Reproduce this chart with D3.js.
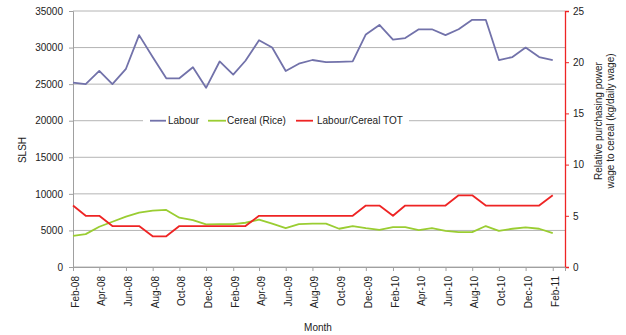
<!DOCTYPE html>
<html>
<head>
<meta charset="utf-8">
<script src="https://cdn.jsdelivr.net/npm/d3@7"></script>
<style>
  html, body { margin: 0; padding: 0; background: #fff; }
  svg { display: block; font-family: "Liberation Sans", Arial, sans-serif; }
</style>
</head>
<body>
<svg id="chart" width="626" height="335"></svg>
<script>
// Monthly series, Feb-08 to Feb-11
const months = [
  "Feb-08","Mar-08","Apr-08","May-08","Jun-08","Jul-08","Aug-08","Sep-08","Oct-08","Nov-08","Dec-08",
  "Jan-09","Feb-09","Mar-09","Apr-09","May-09","Jun-09","Jul-09","Aug-09","Sep-09","Oct-09","Nov-09","Dec-09",
  "Jan-10","Feb-10","Mar-10","Apr-10","May-10","Jun-10","Jul-10","Aug-10","Sep-10","Oct-10","Nov-10","Dec-10",
  "Jan-11","Feb-11"
];
// Daily labour wage (SLSH)
const labour = [
  25200, 25000, 26800, 25000, 27100, 31700, 28700, 25800, 25800, 27300, 24500,
  28100, 26300, 28200, 31000, 30000, 26800, 27800, 28300, 28000, 28050, 28100, 31800,
  33100, 31100, 31300, 32500, 32500, 31700, 32500, 33800, 33800, 28300, 28700, 30000,
  28700, 28300
];
// Cereal (rice) price (SLSH)
const cereal = [
  4250, 4500, 5500, 6190, 6880, 7430, 7700, 7800, 6740, 6420, 5830,
  5870, 5870, 6050, 6470, 5920, 5320, 5870, 5920, 5920, 5230, 5600, 5320,
  5090, 5460, 5460, 5050, 5320, 4950, 4770, 4770, 5600, 4950, 5230, 5410,
  5230, 4630
];
// Terms of trade: kg of cereal per daily wage
const tot = [
  6, 5, 5, 4, 4, 4, 3, 3, 4, 4, 4,
  4, 4, 4, 5, 5, 5, 5, 5, 5, 5, 5, 6,
  6, 5, 6, 6, 6, 6, 7, 7, 6, 6, 6, 6,
  6, 7
];
const leftTicks = [0, 5000, 10000, 15000, 20000, 25000, 30000, 35000];
const rightTicks = [0, 5, 10, 15, 20, 25];
const seriesNames = ["Labour", "Cereal (Rice)", "Labour/Cereal TOT"];

const colors = { labour: "#7272aa", cereal: "#9acd32", tot: "#ee2424", grid: "#b4b4b4", axis: "#a0a0a0", text: "#222" };

const parse = d3.utcParse("%b-%y");
const dates = months.map(parse);

const svg = d3.select("#chart");
svg.append("rect").attr("width", 626).attr("height", 335).attr("fill", "#fff");

const plot = { left: 73, right: 565, top: 11, bottom: 267 };

const x = d3.scaleUtc()
  .domain([parse("Feb-08"), parse("Mar-11")])
  .range([plot.left, plot.right]);
const yL = d3.scaleLinear().domain([0, 35000]).range([plot.bottom, plot.top]);
const yR = d3.scaleLinear().domain([0, 25]).range([plot.bottom, plot.top]);

// horizontal gridlines
svg.append("g").selectAll("line").data(leftTicks).join("line")
  .attr("x1", plot.left).attr("x2", plot.right)
  .attr("y1", d => yL(d)).attr("y2", d => yL(d))
  .attr("stroke", colors.grid).attr("stroke-width", 1);

// left axis
const gL = svg.append("g").attr("transform", `translate(${plot.left},0)`)
  .call(d3.axisLeft(yL).tickValues(leftTicks).tickSize(4).tickPadding(6).tickFormat(d3.format("d")));
gL.select(".domain").attr("stroke", colors.axis);
gL.selectAll(".tick line").attr("stroke", colors.axis);
gL.selectAll("text").attr("font-size", 10).attr("fill", colors.text);

// right axis
const gR = svg.append("g").attr("transform", `translate(${plot.right},0)`)
  .call(d3.axisRight(yR).tickValues(rightTicks).tickSize(4).tickPadding(4));
gR.select(".domain").attr("stroke", colors.tot).attr("stroke-width", 1.3);
gR.selectAll(".tick line").attr("stroke", colors.tot);
gR.selectAll("text").attr("font-size", 10).attr("fill", colors.text);

// bottom axis, every second month
const tickDates = dates.filter((d, i) => i % 2 === 0);
const gB = svg.append("g").attr("transform", `translate(0,${plot.bottom})`)
  .call(d3.axisBottom(x).tickValues(tickDates).tickSize(4).tickFormat(d3.utcFormat("%b-%y")));
gB.select(".domain").attr("stroke", colors.axis);
gB.selectAll(".tick line").attr("stroke", colors.axis);
gB.selectAll("text")
  .attr("font-size", 10).attr("fill", colors.text)
  .attr("transform", "rotate(-90)")
  .attr("x", -9).attr("y", 0).attr("dy", "0.55em")
  .style("text-anchor", "end");

// series lines
const lineL = d3.line().x((d, i) => x(dates[i])).y(d => yL(d));
const lineR = d3.line().x((d, i) => x(dates[i])).y(d => yR(d));

svg.append("path").datum(cereal).attr("d", lineL)
  .attr("fill", "none").attr("stroke", colors.cereal).attr("stroke-width", 1.8).attr("stroke-linejoin", "round");
svg.append("path").datum(tot).attr("d", lineR)
  .attr("fill", "none").attr("stroke", colors.tot).attr("stroke-width", 1.8).attr("stroke-linejoin", "round");
svg.append("path").datum(labour).attr("d", lineL)
  .attr("fill", "none").attr("stroke", colors.labour).attr("stroke-width", 1.8).attr("stroke-linejoin", "round");

// legend over the 20000 gridline
const legY = yL(20000);
const leg = svg.append("g");
leg.append("rect").attr("x", 143).attr("y", legY - 8).attr("width", 266).attr("height", 16).attr("fill", "#fff");
const legItems = [
  { name: seriesNames[0], color: colors.labour, x0: 150, x1: 166, tx: 168 },
  { name: seriesNames[1], color: colors.cereal, x0: 208, x1: 226, tx: 227 },
  { name: seriesNames[2], color: colors.tot, x0: 296, x1: 313, tx: 317 }
];
legItems.forEach(it => {
  leg.append("line").attr("x1", it.x0).attr("x2", it.x1).attr("y1", legY).attr("y2", legY)
    .attr("stroke", it.color).attr("stroke-width", 1.8);
  leg.append("text").attr("x", it.tx).attr("y", legY).attr("dy", "0.35em")
    .attr("font-size", 10).attr("fill", colors.text).text(it.name);
});

// axis titles
svg.append("text").attr("transform", "translate(22,150) rotate(-90)")
  .attr("text-anchor", "middle").attr("dy", "0.35em")
  .attr("font-size", 10).attr("fill", colors.text).text("SLSH");
svg.append("text").attr("transform", "translate(598.5,121) rotate(-90)")
  .attr("text-anchor", "middle").attr("dy", "0.35em")
  .attr("font-size", 10).attr("fill", colors.text).text("Relative purchasing power");
svg.append("text").attr("transform", "translate(610.5,121) rotate(-90)")
  .attr("text-anchor", "middle").attr("dy", "0.35em")
  .attr("font-size", 10).attr("fill", colors.text).text("wage to cereal (kg/daily wage)");
svg.append("text").attr("x", 318).attr("y", 327).attr("dy", "0.35em")
  .attr("text-anchor", "middle").attr("font-size", 10).attr("fill", colors.text).text("Month");
</script>
</body>
</html>
